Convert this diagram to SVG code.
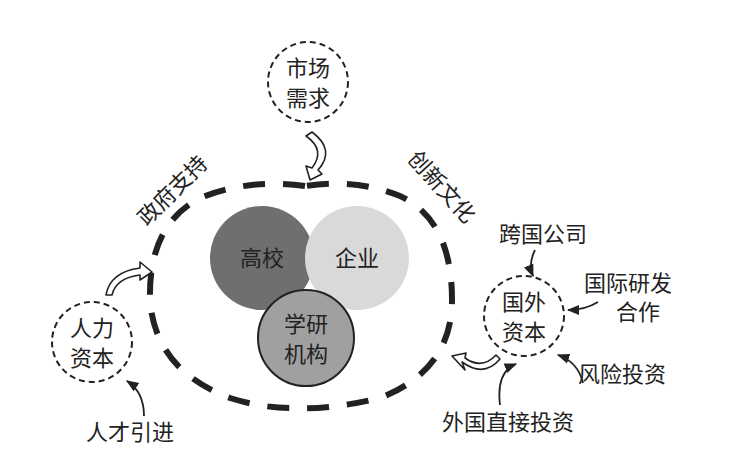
<svg xmlns="http://www.w3.org/2000/svg" width="750" height="469" viewBox="0 0 750 469">
<style>
text{font-family:"Noto Sans CJK SC",sans-serif;fill:#222;font-size:22px}
.dc{fill:none;stroke:#222;stroke-width:2;stroke-dasharray:6 4}
.th{fill:none;stroke:#222;stroke-width:1.8}
.ho{fill:#fff;stroke:#222;stroke-width:1.6;stroke-linejoin:round}
</style>
<defs><marker id="a" viewBox="0 0 10 10" refX="9" refY="5" markerWidth="7" markerHeight="7" orient="auto"><path d="M0,1L10,5L0,9z" fill="#222"/></marker></defs>
<rect width="750" height="469" fill="#fff"/>
<g id="oval"><path d="M305,186 Q250,178 200,198 Q148,225 150,300 Q155,370 230,398 Q262,408 292,408 Q330,410 380,398 Q452,370 452,300 Q452,220 400,196 Q355,178 305,186" fill="none" stroke="#222" stroke-width="6" stroke-dasharray="22 18"/></g>
<g id="gaoxiao"><circle cx="262" cy="258" r="52" fill="#6f6f6f"/><text x="262" y="266" text-anchor="middle">高校</text></g>
<g id="qiye"><circle cx="357" cy="258" r="52" fill="#d9d9d9"/><text x="357" y="266" text-anchor="middle">企业</text></g>
<g id="xueyan"><circle cx="306" cy="338" r="48" fill="#a0a0a0" stroke="#222" stroke-width="2"/><text x="306" y="332" text-anchor="middle">学研</text><text x="306" y="362" text-anchor="middle">机构</text></g>
<g id="shichang"><circle cx="308" cy="82" r="40" class="dc"/><text x="308" y="76" text-anchor="middle">市场</text><text x="308" y="106" text-anchor="middle">需求</text></g>
<g id="renli"><circle cx="92" cy="342" r="40" class="dc"/><text x="92" y="336" text-anchor="middle">人力</text><text x="92" y="366" text-anchor="middle">资本</text></g>
<g id="guowai"><circle cx="524" cy="316" r="40" class="dc"/><text x="524" y="310" text-anchor="middle">国外</text><text x="524" y="340" text-anchor="middle">资本</text></g>
<g id="labels">
<text transform="translate(178,196) rotate(-45)" text-anchor="middle" font-size="23">政府支持</text>
<text transform="translate(436,192) rotate(48)" text-anchor="middle" font-size="23">创新文化</text>
<text x="543" y="242" text-anchor="middle">跨国公司</text>
<text x="628" y="291" text-anchor="middle">国际研发</text>
<text x="638" y="320" text-anchor="middle">合作</text>
<text x="622" y="382" text-anchor="middle">风险投资</text>
<text x="508" y="430" text-anchor="middle">外国直接投资</text>
<text x="130" y="440" text-anchor="middle">人才引进</text>
</g>
<g id="connectors">
<path class="ho" d="M312,132 Q336,150 318,170 L322,174 L310,180 L306,166 L312,168 Q326,150 306,136 Z"/>
<path class="ho" d="M106,295 Q110,272 140,268 L140,262 L152,272 L140,280 L140,275 Q116,278 112,295 Z"/>
<path class="ho" d="M500,359 Q484,378 462,362 L465,370 L452,356 L466,353 L465,358 Q482,370 496,355 Z"/>
<path class="th" d="M535,250 Q528,264 533,276" marker-end="url(#a)"/>
<path class="th" d="M598,302 Q585,310 568,310" marker-end="url(#a)"/>
<path class="th" d="M583,383 Q578,362 558,355" marker-end="url(#a)"/>
<path class="th" d="M500,405 Q496,372 516,364" marker-end="url(#a)"/>
<path class="th" d="M144,416 Q144,392 127,381" marker-end="url(#a)"/>
</g>
</svg>
